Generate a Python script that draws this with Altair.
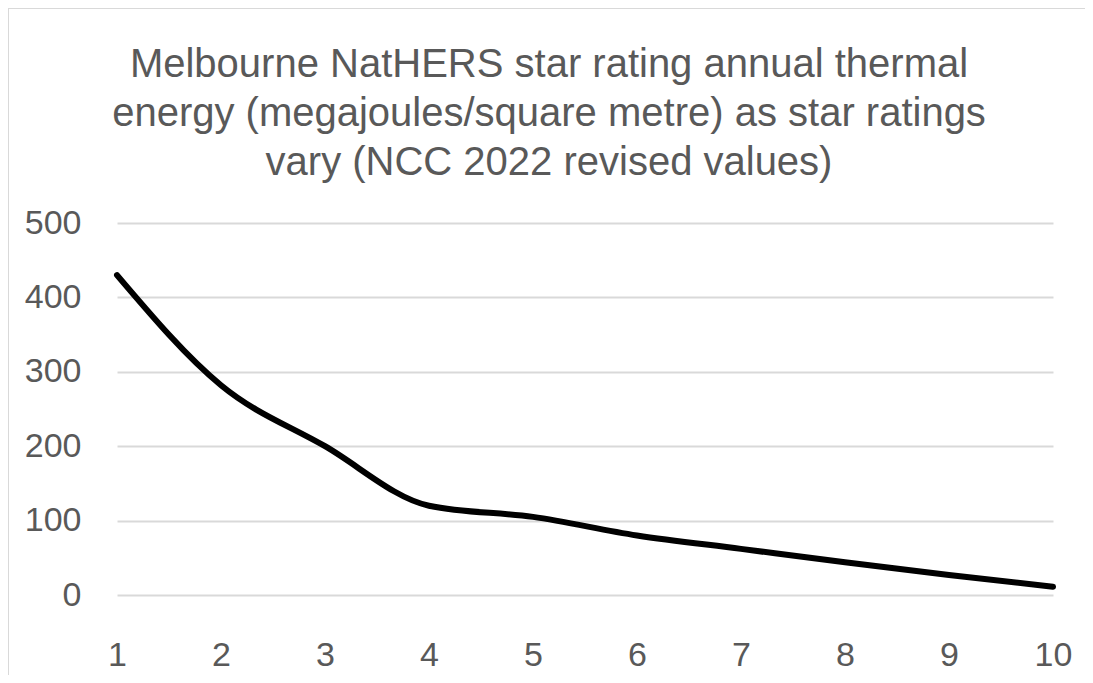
import altair as alt
import pandas as pd

stars = [1, 2, 3, 4, 5, 6, 7, 8, 9, 10]
energy = [430, 282, 200, 120, 105, 80, 62, 44, 27, 11]
y_ticks = [0, 100, 200, 300, 400, 500]
title_lines = [
    "Melbourne NatHERS star rating annual thermal",
    "energy (megajoules/square metre) as star ratings",
    "vary (NCC 2022 revised values)",
]

df = pd.DataFrame({"star": stars, "energy": energy})
FONT = "Liberation Sans, Arial, sans-serif"
GREY = "#595959"

line = alt.Chart(df).mark_line(
    color="#000000", strokeWidth=6, interpolate="monotone", strokeCap="round"
).encode(
    x=alt.X(
        "star:Q",
        scale=alt.Scale(domain=[1, 10], nice=False, zero=False),
        axis=alt.Axis(
            values=stars, format="d", title=None, grid=False, ticks=False,
            domain=False, labelFontSize=34, labelColor=GREY, labelFont=FONT,
            labelPadding=43, labelFlush=False,
        ),
    ),
    y=alt.Y(
        "energy:Q",
        scale=alt.Scale(domain=[0, 500], nice=False),
        axis=alt.Axis(
            values=y_ticks, title=None, grid=True, gridColor="#d9d9d9",
            gridWidth=2, ticks=False, domain=False, labelFontSize=34,
            labelColor=GREY, labelFont=FONT, labelPadding=36,
        ),
    ),
)

# chart border (top and left edges visible in the reference)
border_top = alt.Chart(df).mark_rule(color="#d9d9d9", strokeWidth=2).encode(
    x=alt.value(-109), x2=alt.value(968), y=alt.value(-215)
)
border_left = alt.Chart(df).mark_rule(color="#d9d9d9", strokeWidth=2).encode(
    x=alt.value(-109), y=alt.value(-215), y2=alt.value(470)
)

chart = alt.layer(border_top, border_left, line).properties(
    width=936,
    height=372,
    background="#ffffff",
    title=alt.TitleParams(
        text=title_lines, fontSize=40, font=FONT, color=GREY,
        fontWeight="normal", lineHeight=49, anchor="middle", dx=-36, offset=-176,
    ),
    padding={"left": 109, "top": 215, "right": 32, "bottom": 80},
    autosize=alt.AutoSizeParams(type="none"),
).configure_view(stroke=None)

chart.save("out.html", embed_options={"renderer": "svg", "actions": False})
